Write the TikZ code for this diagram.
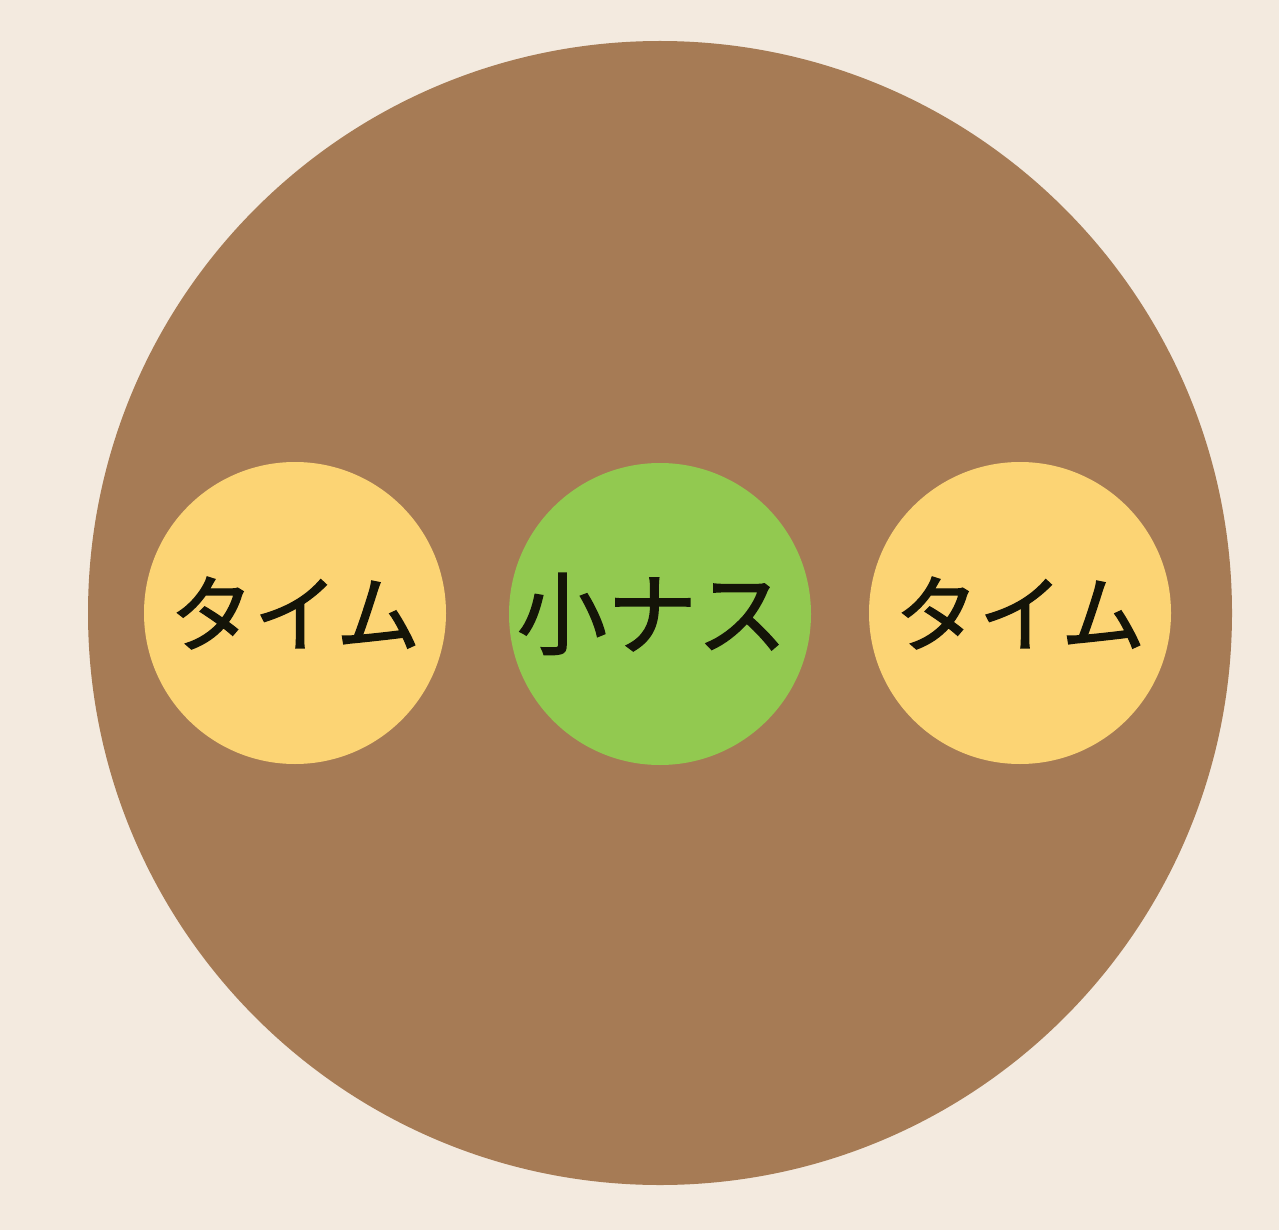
\documentclass[tikz,border=0pt]{standalone}
\usepackage{fontspec}
\newfontfamily\cjk[FakeBold=1.6]{Noto Sans CJK JP}
\definecolor{bgcream}{HTML}{F3EADF}
\definecolor{soil}{HTML}{A67B55}
\definecolor{thyme}{HTML}{FCD474}
\definecolor{eggplant}{HTML}{92C950}
\definecolor{ink}{HTML}{141408}
\tikzset{
  plant/.style={circle, inner sep=0pt, minimum size=302pt, text=ink,
    font=\cjk\fontsize{84}{100}\selectfont},
  plantlabel/.style={inner sep=0pt, text=ink, font=\cjk\fontsize{90}{100}\selectfont},
}
\begin{document}
\begin{tikzpicture}[x=1pt,y=-1pt]
\fill[bgcream] (0,0) rectangle (1279,1230);
\useasboundingbox (0,0) rectangle (1279,1230);
\node[circle, fill=soil, minimum size=1144pt, inner sep=0pt] (pot) at (660,613) {};
\node[plant, fill=thyme] (left) at (295,613) {タイム};
\node[plant, fill=eggplant] (mid) at (660,614) {};
\node[plantlabel] (midlabel) at ([xshift=-8pt]mid.center) {小ナス};
\node[plant, fill=thyme] (right) at (1020,613) {タイム};
\end{tikzpicture}
\end{document}
